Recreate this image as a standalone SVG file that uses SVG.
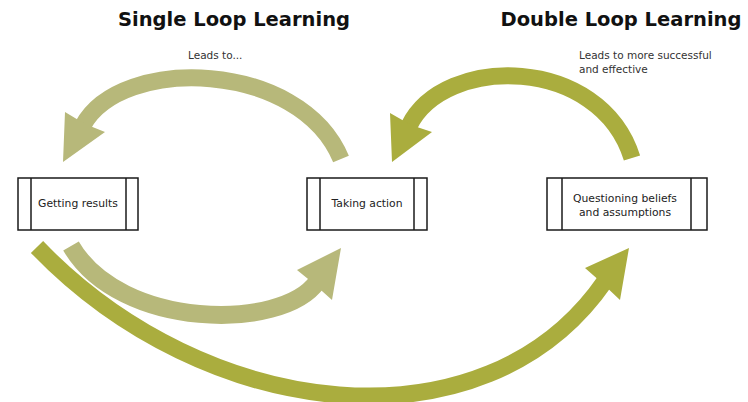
<svg xmlns="http://www.w3.org/2000/svg" width="748" height="402" viewBox="0 0 748 402">
<style>
.title{font-family:"DejaVu Sans","Liberation Sans",sans-serif;font-weight:bold;font-size:19.5px;fill:#111;text-anchor:middle}
.lbl{font-family:"DejaVu Sans","Liberation Sans",sans-serif;font-size:10.5px;fill:#333}
.ntext{font-family:"DejaVu Sans","Liberation Sans",sans-serif;font-size:10.8px;fill:#222;text-anchor:middle}
.box{fill:#fff;stroke:#1a1a1a;stroke-width:1.5}
.bar{stroke:#1a1a1a;stroke-width:1.5}
.light{stroke:#b7b87a;fill:none}
.dark{stroke:#aaad3e;fill:none}
.lightf{fill:#b7b87a}
.darkf{fill:#aaad3e}
</style>
<rect width="748" height="402" fill="#fff"/>
<text class="title" x="234" y="26">Single Loop Learning</text>
<text class="title" x="621" y="26">Double Loop Learning</text>
<text class="lbl" x="188" y="59">Leads to...</text>
<text class="lbl" x="579" y="59">Leads to more successful</text>
<text class="lbl" x="579" y="73">and effective</text>
<g id="connectors">
<path class="light" stroke-width="17" d="M341,159 C300,60 121,55 83,125.5"/>
<polygon class="lightf" points="63,162 65,112 85,124 105,132"/>
<path class="dark" stroke-width="17" d="M632,158 C600,55 444,54 409,126"/>
<polygon class="darkf" points="392,162 390,113 411,125 432,132"/>
<path class="light" stroke-width="18" d="M71,246 C120,330 282,331 317,282"/>
<polygon class="lightf" points="341,248 297,270 313,283 332,300"/>
<path class="dark" stroke-width="17" d="M37,247 C205,422 485,455 605,281"/>
<polygon class="darkf" points="629,248 585,268 601,282 620,300"/>
</g>
<g id="getting-results">
<rect class="box" x="18" y="178" width="120" height="52"/>
<line class="bar" x1="31" y1="178" x2="31" y2="230"/>
<line class="bar" x1="126" y1="178" x2="126" y2="230"/>
<text class="ntext" x="78" y="207">Getting results</text>
</g>
<g id="taking-action">
<rect class="box" x="307" y="178" width="120" height="52"/>
<line class="bar" x1="320" y1="178" x2="320" y2="230"/>
<line class="bar" x1="414" y1="178" x2="414" y2="230"/>
<text class="ntext" x="367" y="207">Taking action</text>
</g>
<g id="questioning-beliefs">
<rect class="box" x="547" y="178" width="160" height="52"/>
<line class="bar" x1="562" y1="178" x2="562" y2="230"/>
<line class="bar" x1="691" y1="178" x2="691" y2="230"/>
<text class="ntext" x="625" y="202">Questioning beliefs</text>
<text class="ntext" x="625" y="216">and assumptions</text>
</g>
</svg>
